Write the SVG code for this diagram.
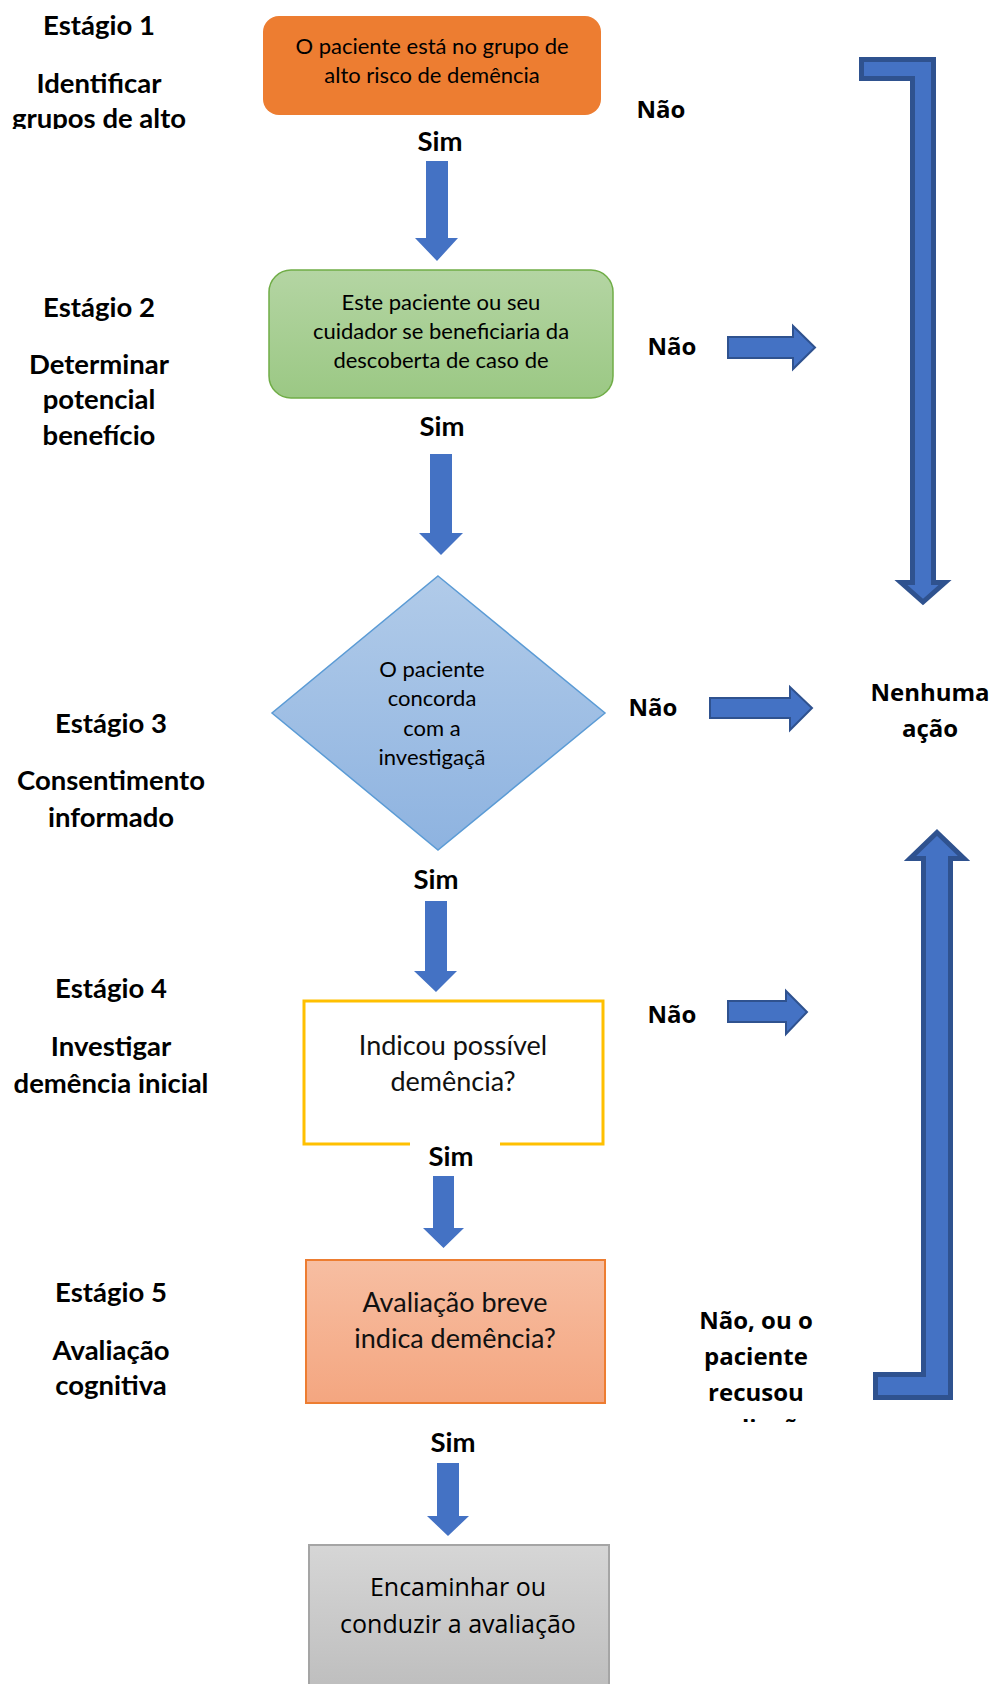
<svg xmlns="http://www.w3.org/2000/svg" width="994" height="1684" viewBox="0 0 994 1684">
<style>
.stage{font-family:Lato,"Liberation Sans",sans-serif;font-weight:700;font-size:27.5px;fill:#000;text-anchor:middle}
.sim{font-family:Lato,"Liberation Sans",sans-serif;font-weight:700;font-size:27.5px;fill:#000;text-anchor:middle}
.nao{font-family:"Open Sans","DejaVu Sans",sans-serif;font-weight:700;font-size:24px;fill:#000;text-anchor:middle}
.box{font-family:Lato,"Liberation Sans",sans-serif;font-size:22px;fill:#000;text-anchor:middle}
.boxl{font-family:Lato,"Liberation Sans",sans-serif;font-size:27px;fill:#111;text-anchor:middle}
.boxo{font-family:"Open Sans","Liberation Sans",sans-serif;font-size:25px;fill:#000;text-anchor:middle}
.down{fill:#4472C4}
.right{fill:#4472C4;stroke:#2F528F;stroke-width:2}
.bracket{fill:#4472C4;stroke:#2F528F;stroke-width:5;stroke-linejoin:miter}
</style>
<defs>
<linearGradient id="gGreen" x1="0" y1="0" x2="0" y2="1"><stop offset="0" stop-color="#b4d5a3"/><stop offset="1" stop-color="#9bc884"/></linearGradient>
<linearGradient id="gBlue" x1="0" y1="0" x2="0" y2="1"><stop offset="0" stop-color="#b1cbe9"/><stop offset="1" stop-color="#8eb3e0"/></linearGradient>
<linearGradient id="gSalmon" x1="0" y1="0" x2="0" y2="1"><stop offset="0" stop-color="#f7bea2"/><stop offset="1" stop-color="#f4a680"/></linearGradient>
<linearGradient id="gGray" x1="0" y1="0" x2="0" y2="1"><stop offset="0" stop-color="#d6d6d6"/><stop offset="1" stop-color="#bdbdbd"/></linearGradient>
<clipPath id="clipStage1"><rect x="0" y="0" width="260" height="129"/></clipPath>
<clipPath id="clipRecusou"><rect x="620" y="1290" width="240" height="132"/></clipPath>
</defs>

<g id="connectors">
<path class="down" d="M426,161 H448 V238 H458 L437,261 L415,238 H426 Z"/>
<path class="down" d="M430,454 H452 V533 H463 L441,555 L419,533 H430 Z"/>
<path class="down" d="M425,901 H447 V971 H457 L436,992 L414,971 H425 Z"/>
<path class="down" d="M433,1176 H454 V1228 H464 L443.5,1248 L423,1228 H433 Z"/>
<path class="down" d="M437,1463 H459 V1516 H469 L448,1536 L427,1516 H437 Z"/>
<path class="right" d="M728,337 H793 V326 L815,347.5 L793,369 V358 H728 Z"/>
<path class="right" d="M710,698 H790 V687 L812,708 L790,730 V718 H710 Z"/>
<path class="right" d="M728,1001 H786 V991 L807,1012 L786,1034 V1022 H728 Z"/>
<path class="bracket" d="M861.5,59.5 H933.5 V582.5 H945 L923,602 L901,582.5 H912.5 V78.5 H861.5 Z"/>
<path class="bracket" d="M937,832.5 L964,858.5 H950.5 V1397.5 H875.5 V1374.5 H923.5 V858.5 H910 Z"/>
</g>

<g id="stage1">
<text class="stage" x="99" y="35">Estágio 1</text>
<text class="stage" x="99" y="93">Identificar</text>
<text class="stage" x="99" y="128" clip-path="url(#clipStage1)">grupos de alto</text>
</g>
<g id="stage2">
<text class="stage" x="99" y="317">Estágio 2</text>
<text class="stage" x="99" y="374">Determinar</text>
<text class="stage" x="99" y="409">potencial</text>
<text class="stage" x="99" y="445">benefício</text>
</g>
<g id="stage3">
<text class="stage" x="111" y="733">Estágio 3</text>
<text class="stage" x="111" y="790">Consentimento</text>
<text class="stage" x="111" y="827">informado</text>
</g>
<g id="stage4">
<text class="stage" x="111" y="998">Estágio 4</text>
<text class="stage" x="111" y="1056">Investigar</text>
<text class="stage" x="111" y="1093">demência inicial</text>
</g>
<g id="stage5">
<text class="stage" x="111" y="1302">Estágio 5</text>
<text class="stage" x="111" y="1360">Avaliação</text>
<text class="stage" x="111" y="1395">cognitiva</text>
</g>

<g id="node-risco">
<rect x="263" y="16" width="338" height="99" rx="16" fill="#ED7D31"/>
<text class="box" x="432" y="54">O paciente está no grupo de</text>
<text class="box" x="432" y="83">alto risco de demência</text>
</g>
<g id="node-beneficio">
<rect x="269" y="270" width="344" height="128" rx="22" fill="url(#gGreen)" stroke="#70AD47" stroke-width="1.5"/>
<text class="box" x="441" y="310">Este paciente ou seu</text>
<text class="box" x="441" y="339">cuidador se beneficiaria da</text>
<text class="box" x="441" y="368">descoberta de caso de</text>
</g>
<g id="node-consentimento">
<polygon points="438,576 605,713 438,850 272,713" fill="url(#gBlue)" stroke="#5B9BD5" stroke-width="1.5"/>
<text class="box" x="432" y="677">O paciente</text>
<text class="box" x="432" y="706">concorda</text>
<text class="box" x="432" y="736">com a</text>
<text class="box" x="432" y="765">investigaçã</text>
</g>
<g id="node-investigar">
<path d="M410,1144 H304 V1001 H603 V1144 H500" fill="none" stroke="#FFC000" stroke-width="3"/>
<text class="boxl" x="453" y="1055">Indicou possível</text>
<text class="boxl" x="453" y="1091">demência?</text>
</g>
<g id="node-avaliacao">
<rect x="306" y="1260" width="299" height="143" fill="url(#gSalmon)" stroke="#ED7D31" stroke-width="2"/>
<text class="boxl" x="455" y="1312">Avaliação breve</text>
<text class="boxl" x="455" y="1348">indica demência?</text>
</g>
<g id="node-encaminhar">
<rect x="309" y="1545" width="300" height="150" fill="url(#gGray)" stroke="#A5A5A5" stroke-width="2"/>
<text class="boxo" x="458" y="1596">Encaminhar ou</text>
<text class="boxo" x="458" y="1633">conduzir a avaliação</text>
</g>
<g id="node-nenhuma">
<text class="nao" x="930" y="701">Nenhuma</text>
<text class="nao" x="930" y="737">ação</text>
</g>

<g id="labels">
<text class="nao" x="661" y="118">Não</text>
<text class="nao" x="672" y="355">Não</text>
<text class="nao" x="653" y="716">Não</text>
<text class="nao" x="672" y="1023">Não</text>
<text class="sim" x="440" y="151">Sim</text>
<text class="sim" x="442" y="436">Sim</text>
<text class="sim" x="436" y="889">Sim</text>
<text class="sim" x="451" y="1166">Sim</text>
<text class="sim" x="453" y="1452">Sim</text>
<g clip-path="url(#clipRecusou)">
<text class="nao" x="756" y="1329">Não, ou o</text>
<text class="nao" x="756" y="1365">paciente</text>
<text class="nao" x="756" y="1401">recusou</text>
<text class="nao" x="756" y="1437">avaliação</text>
</g>
</g>
</svg>
